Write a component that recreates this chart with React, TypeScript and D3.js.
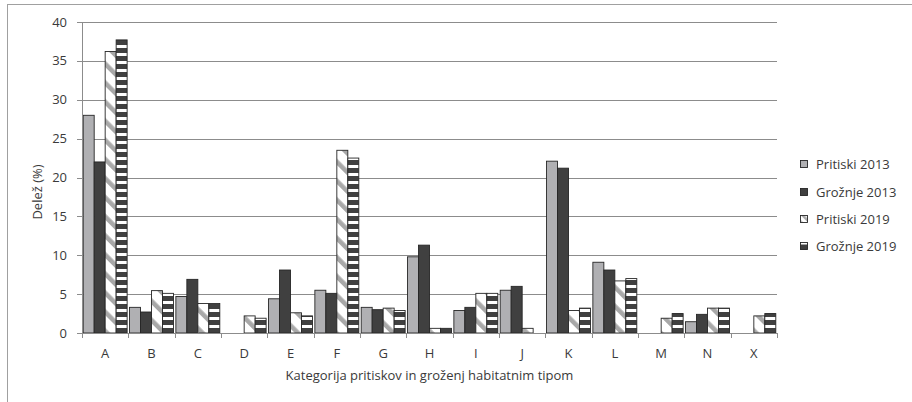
import React from "react";
import * as d3 from "d3";

const categories = ["A", "B", "C", "D", "E", "F", "G", "H", "I", "J", "K", "L", "M", "N", "X"];
const seriesNames = ["Pritiski 2013", "Grožnje 2013", "Pritiski 2019", "Grožnje 2019"];
const pritiski2013 = [28.0, 3.3, 4.7, 0, 4.4, 5.5, 3.3, 9.8, 2.9, 5.5, 22.1, 9.1, 0, 1.45, 0];
const groznje2013 = [22.0, 2.7, 6.9, 0, 8.1, 5.1, 3.0, 11.3, 3.3, 6.0, 21.2, 8.1, 0, 2.4, 0];
const pritiski2019 = [36.2, 5.45, 3.8, 2.2, 2.6, 23.5, 3.2, 0.6, 5.1, 0.6, 2.9, 6.7, 1.9, 3.2, 2.2];
const groznje2019 = [37.7, 5.1, 3.8, 1.9, 2.2, 22.5, 2.9, 0.6, 5.1, 0, 3.2, 7.0, 2.5, 3.2, 2.5];
const yTicks = [0, 5, 10, 15, 20, 25, 30, 35, 40];
const yTitle = "Delež (%)";
const xTitle = "Kategorija pritiskov in groženj habitatnim tipom";

const seriesValues = [pritiski2013, groznje2013, pritiski2019, groznje2019];
const fills = ["#b0b0b3", "#404040", "url(#diag)", "url(#hstripe)"];
const legendFills = ["#b0b0b3", "#404040", "url(#diagL)", "url(#hstripeL)"];

const FONT = "'Open Sans', 'Liberation Sans', sans-serif";
const TXT = "#3a3a3a";
const FS = 13;

export default function App() {
  const left = 82, right = 777, top = 22, bottom = 333;
  const x = d3.scaleBand<string>().domain(categories).range([left, right]).padding(0);
  const bw = x.bandwidth();
  const inner = d3.scaleBand<number>().domain([0, 1, 2, 3]).range([1.2, bw - 1.2]).padding(0);
  const y = d3.scaleLinear().domain([0, 40]).range([bottom, top]);

  return (
    <svg width={912} height={402} style={{ position: "absolute", left: 0, top: 0 }}>
      <defs>
        <pattern id="diag" patternUnits="userSpaceOnUse" width={13.5} height={13.5} patternTransform="rotate(-45)">
          <rect x={0} y={0} width={13.5} height={13.5} fill="#ffffff" />
          <rect x={0} y={0} width={4.5} height={13.5} fill="#a8a8a8" />
        </pattern>
        <pattern id="hstripe" patternUnits="userSpaceOnUse" width={8} height={8}>
          <rect x={0} y={0} width={8} height={8} fill="#404040" />
          <rect x={0} y={5} width={8} height={3} fill="#ffffff" />
        </pattern>
        <pattern id="diagL" patternUnits="userSpaceOnUse" width={6} height={6} patternTransform="rotate(-45)">
          <rect x={0} y={0} width={6} height={6} fill="#ffffff" />
          <rect x={0} y={0} width={2.5} height={6} fill="#a8a8a8" />
        </pattern>
        <pattern id="hstripeL" patternUnits="userSpaceOnUse" width={8} height={8}>
          <rect x={0} y={0} width={8} height={8} fill="#404040" />
          <rect x={0} y={2} width={8} height={2.5} fill="#ffffff" />
        </pattern>
      </defs>
      <rect x={7.5} y={4.5} width={1000} height={600} fill="#ffffff" stroke="#a0a0a0" strokeWidth={1} />

      {/* gridlines */}
      {yTicks.filter((t) => t > 0).map((t) => (
        <line key={t} x1={left} x2={right} y1={Math.round(y(t)) + 0.5} y2={Math.round(y(t)) + 0.5} stroke="#8c8c8c" strokeWidth={1} />
      ))}

      {/* bars */}
      {categories.map((c, i) => (
        <g key={c}>
          {seriesValues.map((vals, s) => {
            const v = vals[i];
            if (!v) return null;
            const bx = (x(c) as number) + (inner(s) as number);
            const by = y(v);
            return (
              <rect key={s} x={bx} y={by} width={inner.bandwidth()} height={bottom - by}
                fill={fills[s]} stroke="#262626" strokeWidth={0.9} />
            );
          })}
        </g>
      ))}

      {/* y axis */}
      <line x1={left + 0.5} x2={left + 0.5} y1={top} y2={bottom} stroke="#8c8c8c" />
      {yTicks.map((t) => (
        <g key={t}>
          <line x1={left - 5} x2={left} y1={Math.round(y(t)) + 0.5} y2={Math.round(y(t)) + 0.5} stroke="#8c8c8c" />
          <text x={67} y={y(t)} dy="0.35em" textAnchor="end" fontFamily={FONT} fontSize={FS} fill={TXT}>{t}</text>
        </g>
      ))}

      {/* x axis */}
      <line x1={left} x2={right} y1={bottom + 0.5} y2={bottom + 0.5} stroke="#8c8c8c" />
      {categories.map((c) => (
        <line key={"t" + c} x1={Math.round(x(c) as number) + 0.5} x2={Math.round(x(c) as number) + 0.5} y1={bottom} y2={bottom + 5} stroke="#8c8c8c" />
      ))}
      <line x1={right + 0.5} x2={right + 0.5} y1={bottom} y2={bottom + 5} stroke="#8c8c8c" />
      {categories.map((c) => (
        <text key={"l" + c} x={(x(c) as number) + bw / 2} y={353} dy="0.35em" textAnchor="middle" fontFamily={FONT} fontSize={FS} fill={TXT}>{c}</text>
      ))}

      <text x={(left + right) / 2} y={375} dy="0.35em" textAnchor="middle" fontFamily={FONT} fontSize={FS} fill={TXT}>{xTitle}</text>
      <text transform={`translate(37,192) rotate(-90)`} dy="0.35em" textAnchor="middle" fontFamily={FONT} fontSize={FS} fill={TXT}>{yTitle}</text>

      {/* legend */}
      {seriesNames.map((n, i) => {
        const ly = [164, 192, 219, 246][i];
        return (
          <g key={n}>
            <rect x={800.5} y={ly - 3.5} width={7} height={7} fill={legendFills[i]} stroke="#262626" strokeWidth={0.9} />
            <text x={816} y={ly} dy="0.35em" fontFamily={FONT} fontSize={FS} fill={TXT}>{n}</text>
          </g>
        );
      })}
    </svg>
  );
}
